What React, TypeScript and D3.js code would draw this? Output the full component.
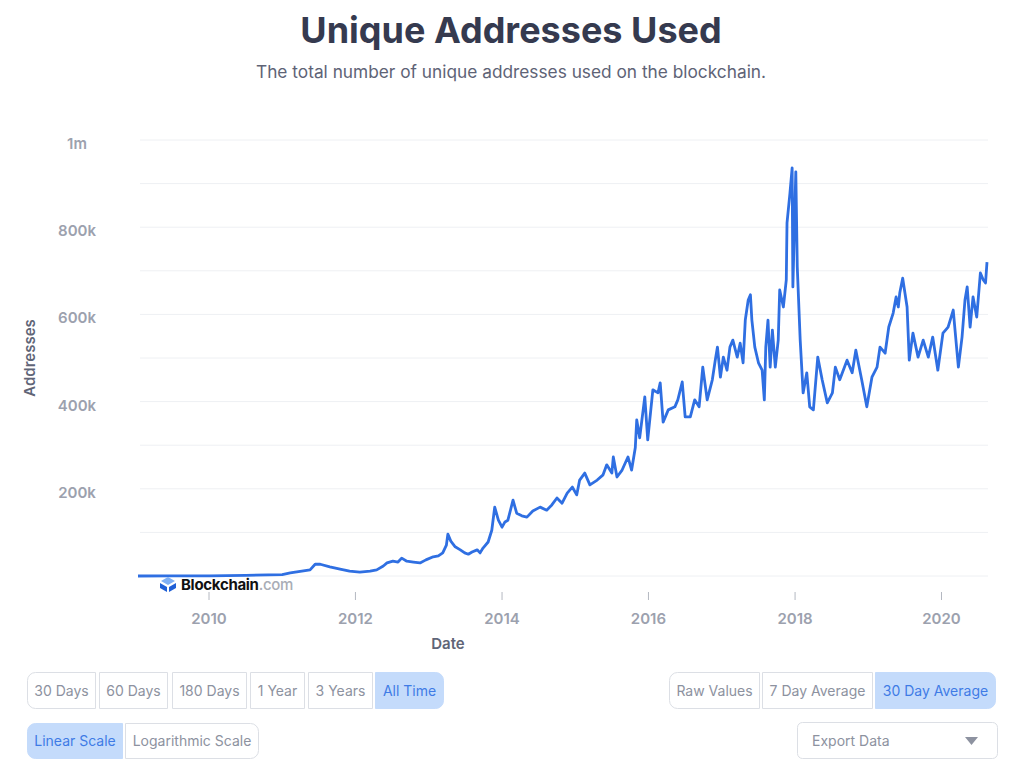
import React from "react";
import * as d3 from "d3";

// ---- data (decimal year, unique addresses in thousands; 30-day average) ----
const years: number[] = [
  2009.03, 2009.5, 2010.0, 2010.5, 2011.0, 2011.11, 2011.38, 2011.45, 2011.52, 2011.65,
  2011.79, 2011.92, 2012.06, 2012.2, 2012.29, 2012.38, 2012.43, 2012.51, 2012.58, 2012.63,
  2012.7, 2012.79, 2012.88, 2012.96, 2013.06, 2013.13, 2013.19, 2013.24, 2013.26, 2013.3,
  2013.36, 2013.43, 2013.49, 2013.54, 2013.59, 2013.66, 2013.7, 2013.74, 2013.81, 2013.86,
  2013.9, 2013.95, 2014.0, 2014.04, 2014.08, 2014.15, 2014.2, 2014.27, 2014.34, 2014.42,
  2014.52, 2014.61, 2014.68, 2014.75, 2014.82, 2014.89, 2014.96, 2015.02, 2015.06, 2015.13,
  2015.2, 2015.3, 2015.38, 2015.43, 2015.5, 2015.52, 2015.57, 2015.64, 2015.72, 2015.77,
  2015.82, 2015.84, 2015.88, 2015.95, 2015.99, 2016.06, 2016.13, 2016.16, 2016.2, 2016.27,
  2016.36, 2016.4, 2016.46, 2016.5, 2016.57, 2016.63, 2016.69, 2016.74, 2016.8, 2016.87,
  2016.91, 2016.94, 2016.98, 2017.02, 2017.07, 2017.11, 2017.15, 2017.21, 2017.25, 2017.29,
  2017.32, 2017.36, 2017.39, 2017.41, 2017.45, 2017.5, 2017.55, 2017.58, 2017.6, 2017.63,
  2017.66, 2017.69, 2017.73, 2017.77, 2017.79, 2017.84, 2017.88, 2017.89, 2017.93, 2017.96,
  2017.97, 2018.01, 2018.03, 2018.07, 2018.11, 2018.16, 2018.2, 2018.25, 2018.31, 2018.37,
  2018.44, 2018.51, 2018.55, 2018.61, 2018.71, 2018.78, 2018.83, 2018.91, 2018.98, 2019.05,
  2019.12, 2019.16, 2019.23, 2019.28, 2019.34, 2019.38, 2019.41, 2019.43, 2019.47, 2019.53,
  2019.56, 2019.61, 2019.68, 2019.75, 2019.82, 2019.88, 2019.95, 2020.02, 2020.09, 2020.16,
  2020.23, 2020.28, 2020.32, 2020.35, 2020.39, 2020.43, 2020.48, 2020.53, 2020.57, 2020.6,
  2020.62,
];
const addressesK: number[] = [
  0, 0.3, 0.5, 1.5, 3, 7, 14, 27, 27, 21,
  16, 11, 9, 11, 14, 23, 30, 34, 32, 41,
  34, 32, 30, 37, 44, 46, 53, 71, 96, 80,
  67, 60, 53, 50, 55, 60, 53, 64, 78, 105,
  158, 128, 112, 124, 128, 174, 144, 138, 135, 149,
  158, 151, 163, 179, 167, 190, 204, 186, 220, 236,
  209, 220, 232, 255, 236, 273, 227, 243, 273, 243,
  294, 358, 317, 411, 312, 427, 420, 443, 353, 381,
  388, 404, 445, 365, 365, 404, 388, 479, 404, 450,
  495, 525, 456, 502, 472, 525, 541, 502, 534, 489,
  587, 633, 645, 587, 525, 489, 472, 404, 525, 587,
  479, 564, 479, 541, 656, 617, 679, 810, 878, 936,
  663, 927, 709, 541, 420, 466, 388, 381, 502, 450,
  397, 420, 479, 450, 495, 466, 518, 450, 388, 456,
  479, 525, 511, 571, 603, 640, 617, 649, 683, 617,
  495, 557, 502, 541, 502, 548, 472, 557, 571, 610,
  479, 548, 633, 663, 571, 640, 594, 695, 679, 672,
  720,
];
const yTicks: number[] = [200000, 400000, 600000, 800000, 1000000];
const xTickYears: number[] = [2010, 2012, 2014, 2016, 2018, 2020];
const rangeButtons: string[] = ["30 Days", "60 Days", "180 Days", "1 Year", "3 Years", "All Time"];
const scaleButtons: string[] = ["Linear Scale", "Logarithmic Scale"];
const avgButtons: string[] = ["Raw Values", "7 Day Average", "30 Day Average"];

const FONT = "Inter, 'Noto Sans', sans-serif";

function yearToDate(y: number): Date {
  const yr = Math.floor(y);
  const start = Date.UTC(yr, 0, 1);
  const end = Date.UTC(yr + 1, 0, 1);
  return new Date(start + (y - yr) * (end - start));
}

type Pt = { date: Date; value: number };
const data: Pt[] = years.map((y, i) => ({ date: yearToDate(y), value: addressesK[i] * 1000 }));

function roundedPath(x: number, y: number, w: number, h: number, rl: number, rr: number) {
  return [
    `M${x + rl},${y}`,
    `H${x + w - rr}`,
    rr ? `A${rr},${rr} 0 0 1 ${x + w},${y + rr}` : "",
    `V${y + h - rr}`,
    rr ? `A${rr},${rr} 0 0 1 ${x + w - rr},${y + h}` : "",
    `H${x + rl}`,
    rl ? `A${rl},${rl} 0 0 1 ${x},${y + h - rl}` : "",
    `V${y + rl}`,
    rl ? `A${rl},${rl} 0 0 1 ${x + rl},${y}` : "",
    "Z",
  ].join(" ");
}

type Btn = { label: string; x: number; w: number };

function ButtonGroup({ buttons, y, h, active }: { buttons: Btn[]; y: number; h: number; active: number }) {
  return (
    <g>
      {buttons.map((b, i) => {
        const rl = i === 0 ? 8 : 0;
        const rr = i === buttons.length - 1 ? 8 : 0;
        const on = i === active;
        return (
          <g key={b.label}>
            <path
              d={roundedPath(b.x + 0.5, y + 0.5, b.w, h, rl, rr)}
              fill={on ? "#c4dbfb" : "#ffffff"}
              stroke={on ? "#c4dbfb" : "#dcdfe5"}
              strokeWidth={1}
            />
            <text
              x={b.x + b.w / 2 + 0.5}
              y={y + h / 2 + 2}
              textAnchor="middle"
              dominantBaseline="middle"
              fontSize={14}
              fontFamily={FONT}
              fill={on ? "#3f7be6" : "#8d92a0"}
            >
              {b.label}
            </text>
          </g>
        );
      })}
    </g>
  );
}

export default function App() {
  const W = 1024;
  const H = 775;
  const gridLeft = 140;
  const gridRight = 988;

  const x = d3
    .scaleTime()
    .domain(d3.extent(data, (d) => d.date) as [Date, Date])
    .range([138, 987]);
  const y = d3.scaleLinear().domain([0, 1000000]).range([576, 140]);

  const line = d3
    .line<Pt>()
    .x((d) => x(d.date))
    .y((d) => y(d.value))
    .curve(d3.curveLinear);

  const gridVals = d3.range(0, 1000001, 100000);
  const fmt = (v: number) => (v >= 1000000 ? `${v / 1000000}m` : `${v / 1000}k`);

  const rangeX = [27, 99, 172, 250, 308, 375];
  const rangeW = [68, 68, 74, 54, 64, 68];
  const rangeBtns: Btn[] = rangeButtons.map((l, i) => ({ label: l, x: rangeX[i], w: rangeW[i] }));
  const scaleBtns: Btn[] = scaleButtons.map((l, i) => ({ label: l, x: [27, 125][i], w: [95, 133][i] }));
  const avgBtns: Btn[] = avgButtons.map((l, i) => ({ label: l, x: [669, 762, 875][i], w: [90, 110, 120][i] }));

  return (
    <div style={{ position: "absolute", left: 0, top: 0, width: W, height: H, background: "#fff" }}>
      <svg width={W} height={H} style={{ display: "block" }}>
        <rect width={W} height={H} fill="#ffffff" />
        {/* title */}
        <text x={511} y={43} textAnchor="middle" fontFamily={FONT} fontWeight={700} fontSize={36} fill="#353a4f">
          Unique Addresses Used
        </text>
        <text x={511} y={78} textAnchor="middle" fontFamily={FONT} fontSize={17.3} fill="#5e6376">
          The total number of unique addresses used on the blockchain.
        </text>

        {/* grid */}
        {gridVals.map((v) => (
          <line key={v} x1={gridLeft} x2={gridRight} y1={y(v)} y2={y(v)} stroke="#eef0f3" strokeWidth={1} />
        ))}

        {/* y axis labels */}
        {yTicks.map((v) => (
          <text
            key={v}
            x={77}
            y={y(v) + 5}
            textAnchor="middle"
            dominantBaseline="middle"
            fontFamily={FONT}
            fontWeight={600}
            fontSize={15}
            fill="#9ca1ae"
          >
            {fmt(v)}
          </text>
        ))}
        <text
          transform={`translate(31,358) rotate(-90)`}
          textAnchor="middle"
          dominantBaseline="middle"
          fontFamily={FONT}
          fontWeight={600}
          fontSize={15}
          fill="#5f6577"
        >
          Addresses
        </text>

        {/* x axis */}
        {xTickYears.map((yr) => {
          const xp = x(new Date(Date.UTC(yr, 0, 1)));
          return (
            <g key={yr}>
              <line x1={xp} x2={xp} y1={592} y2={600} stroke="#b4b8c1" strokeWidth={1} />
              <text
                x={xp}
                y={620}
                textAnchor="middle"
                dominantBaseline="middle"
                fontFamily={FONT}
                fontWeight={600}
                fontSize={15}
                fill="#9ca1ae"
              >
                {yr}
              </text>
            </g>
          );
        })}
        <text x={448} y={645} textAnchor="middle" dominantBaseline="middle" fontFamily={FONT} fontWeight={600} fontSize={15} fill="#5f6577">
          Date
        </text>

        {/* line */}
        <path d={line(data) || ""} fill="none" stroke="#2f6fe2" strokeWidth={2.8} strokeLinejoin="round" />

        {/* watermark */}
        <g transform="translate(160,577)">
          <polygon points="8,0 15,4 8,8 1,4" fill="#7fb0f5" />
          <polygon points="0,6 7,10 7,15 0,11" fill="#1f5fd6" />
          <polygon points="16,6 9,10 9,15 16,11" fill="#1f5fd6" />
        </g>
        <text x={181} y={590} fontFamily={FONT} fontWeight={700} fontSize={15} fill="#111" letterSpacing={-0.3}>
          Blockchain
          <tspan fill="#a9adb6" fontWeight={500}>.com</tspan>
        </text>

        {/* buttons */}
        <ButtonGroup buttons={rangeBtns} y={672} h={36} active={5} />
        <ButtonGroup buttons={scaleBtns} y={723} h={35} active={0} />
        <ButtonGroup buttons={avgBtns} y={672} h={36} active={2} />

        {/* export */}
        <rect x={797.5} y={722.5} width={200} height={36} rx={5} fill="#fff" stroke="#dcdfe5" />
        <text x={812} y={742} dominantBaseline="middle" fontFamily={FONT} fontSize={14} fill="#8d92a0">
          Export Data
        </text>
        <polygon points="965,737 978,737 971.5,745" fill="#8d92a0" />
      </svg>
    </div>
  );
}
